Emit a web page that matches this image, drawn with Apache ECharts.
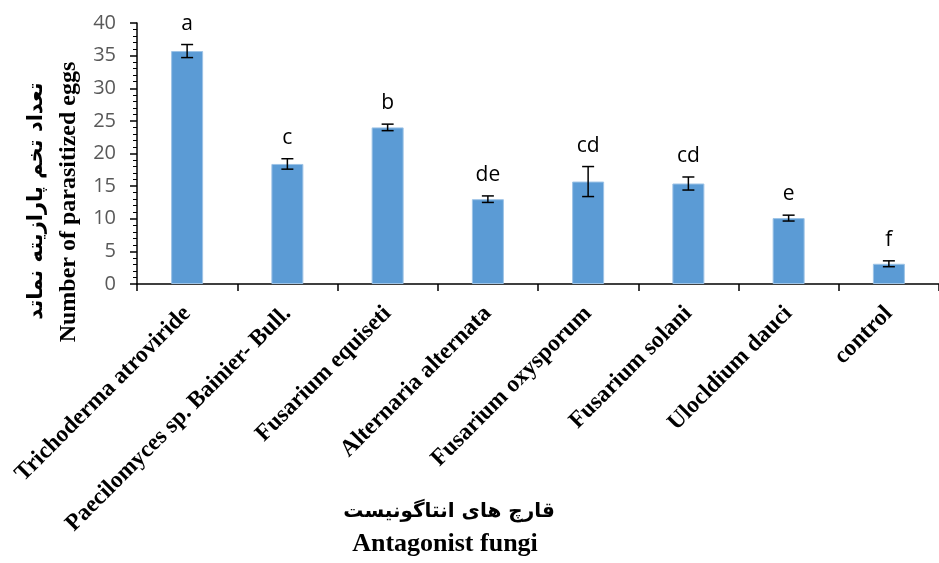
<!DOCTYPE html>
<html>
<head>
<meta charset="utf-8">
<script src="https://cdn.jsdelivr.net/npm/echarts@6/dist/echarts.min.js"></script>
<style>
html,body{margin:0;padding:0;background:#fff;}
#chart{width:939px;height:563px;}
</style>
</head>
<body>
<div id="chart"></div>
<script>
const categories = ['Trichoderma atroviride', 'Paecilomyces sp. Bainier- Bull.', 'Fusarium equiseti', 'Alternaria alternata', 'Fusarium oxysporum', 'Fusarium solani', 'Ulocldium dauci', 'control'];
const means = [35.7, 18.4, 24.0, 13.0, 15.7, 15.4, 10.1, 3.1];
const errors = [1.0, 0.8, 0.5, 0.5, 2.3, 1.0, 0.45, 0.45];
const letters = ['a', 'c', 'b', 'de', 'cd', 'cd', 'e', 'f'];
const yTicks = [0, 5, 10, 15, 20, 25, 30, 35, 40];

const errData = means.map((m, i) => [i, m - errors[i], m + errors[i], letters[i]]);

const chart = echarts.init(document.getElementById('chart'));
chart.setOption({
  backgroundColor: '#ffffff',
  animation: false,
  grid: { left: 137, top: 23, width: 810, bottom: 279, containLabel: false },
  xAxis: {
    type: 'category',
    data: categories,
    axisLine: { lineStyle: { color: '#000', width: 1.5 } },
    axisTick: { show: true, length: 7, lineStyle: { color: '#000', width: 1.5 } },
    axisLabel: {
      interval: 0, rotate: 45, margin: 26,
      fontFamily: 'Liberation Serif', fontWeight: 'bold', fontSize: 23.5, color: '#000'
    }
  },
  yAxis: {
    type: 'value', min: yTicks[0], max: yTicks[yTicks.length - 1], interval: 5,
    axisLine: { show: true, lineStyle: { color: '#000', width: 1.5 } },
    axisTick: { show: true, length: 7, lineStyle: { color: '#000', width: 1.5 } },
    minorTick: { show: true, splitNumber: 5, length: 4, lineStyle: { color: '#000', width: 1 } },
    splitLine: { show: false },
    axisLabel: { margin: 21, fontFamily: 'Open Sans', fontSize: 20, color: '#595959' }
  },
  series: [
    {
      type: 'bar',
      data: means,
      barWidth: 32,
      itemStyle: { color: '#5B9BD5', borderColor: '#9DC3E6', borderWidth: 1 }
    },
    {
      type: 'custom',
      data: errData,
      z: 10,
      renderItem: function (params, api) {
        const x = api.coord([api.value(0), 0])[0];
        const lo = api.coord([api.value(0), api.value(1)])[1];
        const hi = api.coord([api.value(0), api.value(2)])[1];
        const hw = 6;
        const st = { stroke: '#000', lineWidth: 1.5 };
        return {
          type: 'group',
          children: [
            { type: 'line', shape: { x1: x, y1: lo, x2: x, y2: hi }, style: st },
            { type: 'line', shape: { x1: x - hw, y1: lo, x2: x + hw, y2: lo }, style: st },
            { type: 'line', shape: { x1: x - hw, y1: hi, x2: x + hw, y2: hi }, style: st },
            { type: 'text', x: x, y: hi - 21, style: { text: api.value(3), fill: '#000', font: '21px "Open Sans"', align: 'center', verticalAlign: 'middle' } }
          ]
        };
      }
    }
  ],
  graphic: [
    { type: 'text', rotation: Math.PI / 2, x: 37, y: 201,
      style: { text: 'تعداد تخم پارازیته نماتد', fill: '#000', font: 'bold 21px "DejaVu Sans"', align: 'center', verticalAlign: 'middle' } },
    { type: 'text', rotation: Math.PI / 2, x: 69, y: 202,
      style: { text: 'Number of parasitized eggs', fill: '#000', font: 'bold 24px "Liberation Serif"', align: 'center', verticalAlign: 'middle' } },
    { type: 'text', x: 449, y: 512,
      style: { text: 'قارچ های انتاگونیست', fill: '#000', font: 'bold 20px "DejaVu Sans"', align: 'center', verticalAlign: 'middle' } },
    { type: 'text', x: 445, y: 544,
      style: { text: 'Antagonist fungi', fill: '#000', font: 'bold 26px "Liberation Serif"', align: 'center', verticalAlign: 'middle' } }
  ]
});
</script>
</body>
</html>
